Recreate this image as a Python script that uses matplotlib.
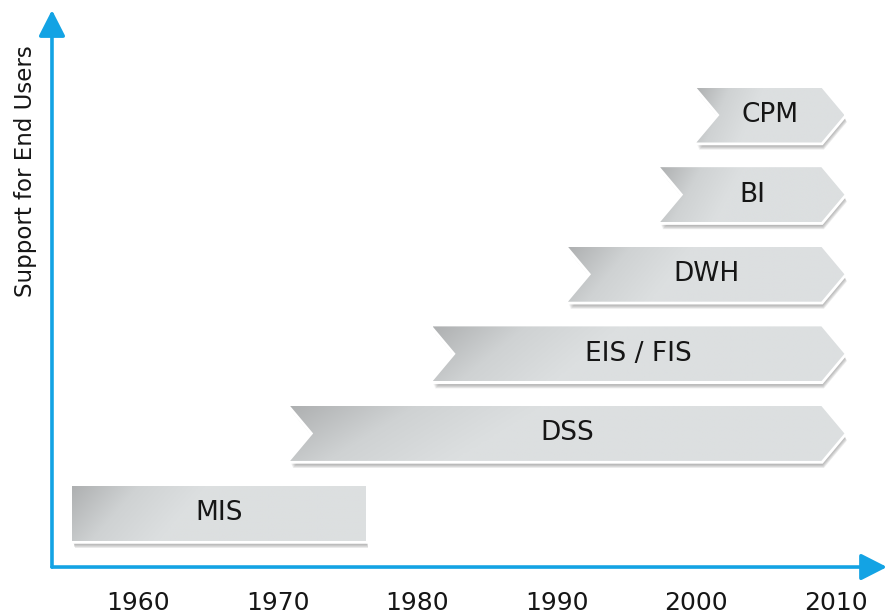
import numpy as np
import matplotlib.pyplot as plt
from matplotlib.patches import Polygon
from matplotlib.colors import LinearSegmentedColormap

# stages of decision-support systems, bottom row first
stages = ['MIS', 'DSS', 'EIS / FIS', 'DWH', 'BI', 'CPM']
start_year = [1955.3, 1970.9, 1981.1, 1990.8, 1997.4, 2000.0]
end_year = [1976.3, 2010.6, 2010.6, 2010.6, 2010.6, 2010.6]
is_chevron = [False, True, True, True, True, True]
decades = [1960, 1970, 1980, 1990, 2000, 2010]

BLUE = '#13a3e4'
TEXT = '#161616'
grey = LinearSegmentedColormap.from_list('grey', ['#aeb0b1', '#cfd2d3', '#dcdfe0'])

bar_h = 0.69   # in rows
tip = 1.65     # arrow point depth, in years

fig = plt.figure(figsize=(8.87, 6.16), dpi=100)
ax = fig.add_axes([0.0586, 0.0795, 0.9414, 0.9042])
ax.set_xlim(1953.84, 2013.65)
ax.set_ylim(-0.678, 6.319)


def outline(x0, x1, y, chevron):
    top, bot = y + bar_h / 2, y - bar_h / 2
    if not chevron:
        return [(x0, bot), (x1, bot), (x1, top), (x0, top)]
    return [(x0, bot), (x1 - tip, bot), (x1, y), (x1 - tip, top), (x0, top), (x0 + tip, y)]


for row, (name, x0, x1, chev) in enumerate(zip(stages, start_year, end_year, is_chevron)):
    pts = np.array(outline(x0, x1, row, chev))

    # soft shadow below / right
    for k in range(5):
        off = pts + np.array([0.06 + 0.03 * k, -0.04 - 0.012 * k])
        ax.add_patch(Polygon(off, closed=True, facecolor='#7d7d7d', edgecolor='none',
                             alpha=0.16, zorder=1))

    # white rim
    ax.add_patch(Polygon(pts, closed=True, facecolor='white', edgecolor='white',
                         lw=4, joinstyle='miter', zorder=2))

    # gradient fill clipped to the shape
    clip = Polygon(pts, closed=True, facecolor='none', edgecolor='none', zorder=3)
    ax.add_patch(clip)
    xs = np.linspace(x0, x1, 300)
    ys = np.linspace(0, 1, 40)
    X, Y = np.meshgrid(xs, ys)
    L = 0.45 * (x1 - x0)
    t = np.clip((X - x0) / L + 0.35 * Y, 0, 1)
    im = ax.imshow(t, cmap=grey, vmin=0, vmax=1, aspect='auto', origin='upper',
                   extent=[x0, x1, row - bar_h / 2, row + bar_h / 2],
                   interpolation='bilinear', zorder=3)
    im.set_clip_path(clip)

    ax.text((x0 + x1) / 2, row, name, ha='center', va='center',
            fontsize=19, color=TEXT, zorder=4)

# axes drawn as blue arrows
for end in [(1, 0), (0, 1)]:
    ax.annotate('', xy=end, xytext=(0, 0), xycoords='axes fraction',
                arrowprops=dict(arrowstyle='-|>,head_length=0.53,head_width=0.27',
                                color=BLUE, lw=2.6, mutation_scale=30,
                                shrinkA=0, shrinkB=0), annotation_clip=False)

for s in ax.spines.values():
    s.set_visible(False)
ax.set_xticks(decades)
ax.set_xticklabels([str(d) for d in decades], fontsize=18, color=TEXT)
ax.tick_params(axis='x', length=0, pad=17)
ax.set_yticks([])
ax.set_ylabel('Support for End Users', fontsize=16.5, color=TEXT)
ax.yaxis.set_label_coords(-0.018, 0.711)

fig.savefig('out.png', dpi=100)
